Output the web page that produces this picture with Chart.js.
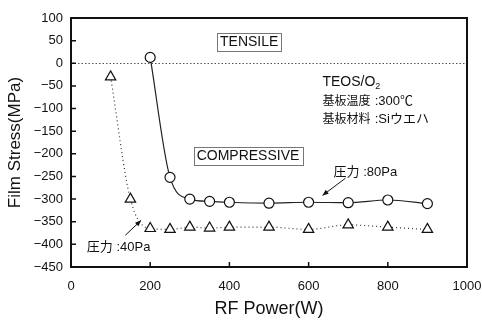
<!DOCTYPE html>
<html><head><meta charset="utf-8">
<script src="https://cdn.jsdelivr.net/npm/chart.js@4/dist/chart.umd.min.js"></script>
<style>html,body{margin:0;padding:0;background:#fff}#wrap{width:482px;height:323px}</style>
</head><body><div id="wrap"><canvas id="c" width="482" height="323"></canvas></div>
<script>
const powers80 = [200,250,300,350,400,500,600,700,800,900];
const stress80 = [13,-252,-300,-305,-307,-309,-307,-308,-302,-310];
const powers40 = [100,150,200,250,300,350,400,500,600,700,800,900];
const stress40 = [-30,-300,-365,-367,-362,-364,-362,-362,-367,-357,-362,-367];
const xTicks = [0,200,400,600,800,1000];
const yTicks = [100,50,0,-50,-100,-150,-200,-250,-300,-350,-400,-450];
const label80 = '圧力 :80Pa';
const label40 = '圧力 :40Pa';
const infoLines = ['TEOS/O', '基板温度', '基板材料'];
const infoValues = ['', ':300℃', ':Siウエハ'];

const FONT = '"Liberation Sans", Arial, sans-serif';
const CJK = '"Liberation Sans", "Noto Sans CJK JP", sans-serif';

const deco = {
  id: 'deco',
  beforeDatasetsDraw(chart) {
    const {ctx, chartArea: a, scales: {x, y}} = chart;
    ctx.save();
    ctx.strokeStyle = '#555';
    ctx.lineWidth = 1;
    ctx.setLineDash([1.5, 2]);
    const y0 = Math.round(y.getPixelForValue(0)) + 0.5;
    ctx.beginPath(); ctx.moveTo(a.left, y0); ctx.lineTo(a.right, y0); ctx.stroke();
    ctx.restore();
  },
  afterDraw(chart) {
    const {ctx, chartArea: a, scales: {x, y}} = chart;
    ctx.save();
    ctx.strokeStyle = '#111'; ctx.lineWidth = 2;
    ctx.strokeRect(a.left, a.top, a.right - a.left, a.bottom - a.top);
    ctx.lineWidth = 1.5;
    ctx.beginPath();
    yTicks.forEach(v => { const p = y.getPixelForValue(v); ctx.moveTo(a.left, p); ctx.lineTo(a.left + 5, p); });
    xTicks.forEach(v => { const p = x.getPixelForValue(v); ctx.moveTo(p, a.bottom); ctx.lineTo(p, a.bottom - 5); });
    ctx.stroke();

    ctx.fillStyle = '#111';
    ctx.textBaseline = 'middle';
    function boxed(txt, cx, cy) {
      ctx.font = '14px ' + FONT;
      ctx.textAlign = 'center';
      const px = x.getPixelForValue(cx), py = y.getPixelForValue(cy);
      const w = ctx.measureText(txt).width;
      ctx.fillText(txt, px, py);
      ctx.strokeStyle = '#777'; ctx.lineWidth = 1;
      ctx.strokeRect(Math.round(px - w/2 - 3) + 0.5, Math.round(py - 9) + 0.5, Math.round(w + 6), 18);
    }
    boxed('TENSILE', 450, 46);
    boxed('COMPRESSIVE', 447, -205);

    ctx.textAlign = 'left';
    const ix = x.getPixelForValue(635);
    const vx = x.getPixelForValue(767);
    const iy = [-42, -84, -124];
    ctx.font = '14px ' + FONT;
    ctx.fillText(infoLines[0], ix, y.getPixelForValue(iy[0]));
    const tw = ctx.measureText(infoLines[0]).width;
    ctx.font = '9px ' + FONT;
    ctx.fillText('2', ix + tw, y.getPixelForValue(iy[0]) + 4);
    for (let i = 1; i < 3; i++) {
      ctx.font = '12px ' + CJK;
      ctx.fillText(infoLines[i], ix, y.getPixelForValue(iy[i]));
      ctx.font = '13px ' + CJK;
      ctx.fillText(infoValues[i], vx, y.getPixelForValue(iy[i]));
    }

    ctx.font = '13px ' + CJK;
    ctx.fillText(label80, x.getPixelForValue(663), y.getPixelForValue(-241));
    ctx.fillText(label40, x.getPixelForValue(40), y.getPixelForValue(-406));

    function arrow(x1, y1, x2, y2) {
      const p1 = [x.getPixelForValue(x1), y.getPixelForValue(y1)];
      const p2 = [x.getPixelForValue(x2), y.getPixelForValue(y2)];
      ctx.strokeStyle = '#111'; ctx.lineWidth = 1; ctx.setLineDash([]);
      ctx.beginPath(); ctx.moveTo(p1[0], p1[1]); ctx.lineTo(p2[0], p2[1]); ctx.stroke();
      const ang = Math.atan2(p2[1] - p1[1], p2[0] - p1[0]);
      const L = 6, W = 2.5;
      ctx.beginPath();
      ctx.moveTo(p2[0], p2[1]);
      ctx.lineTo(p2[0] - L*Math.cos(ang) + W*Math.sin(ang), p2[1] - L*Math.sin(ang) - W*Math.cos(ang));
      ctx.lineTo(p2[0] - L*Math.cos(ang) - W*Math.sin(ang), p2[1] - L*Math.sin(ang) + W*Math.cos(ang));
      ctx.closePath(); ctx.fill();
    }
    arrow(693, -254, 635, -292);
    arrow(137, -380, 177, -347);
    ctx.restore();
  }
};

new Chart(document.getElementById('c'), {
  type: 'line',
  data: {
    datasets: [
      {
        label: '80Pa',
        data: powers80.map((p, i) => ({x: p, y: stress80[i]})),
        borderColor: '#222', borderWidth: 1.2,
        pointStyle: 'circle', pointRadius: 5, pointBorderWidth: 1.2,
        pointBackgroundColor: '#fff', pointBorderColor: '#111',
        cubicInterpolationMode: 'monotone'
      },
      {
        label: '40Pa',
        data: powers40.map((p, i) => ({x: p, y: stress40[i]})),
        borderColor: '#333', borderWidth: 1.2, borderDash: [1, 3],
        pointStyle: 'triangle', pointRadius: 6, pointBorderWidth: 1.2,
        pointBackgroundColor: '#fff', pointBorderColor: '#111',
        cubicInterpolationMode: 'monotone'
      }
    ]
  },
  options: {
    responsive: false, animation: false, devicePixelRatio: 1,
    layout: {padding: {top: 18, right: 0, left: 0, bottom: 0}},
    plugins: {legend: {display: false}, tooltip: {enabled: false}},
    scales: {
      x: {
        type: 'linear', min: 0, max: 1000,
        afterBuildTicks: s => { s.ticks = xTicks.map(v => ({value: v})); },
        afterFit: s => { s.height = 56; s.paddingRight = 15; s.paddingLeft = 0; },
        grid: {display: false, drawTicks: false},
        border: {display: false},
        ticks: {padding: 12, color: '#111', font: {family: FONT, size: 13}, maxRotation: 0, callback: v => String(v)},
        title: {display: true, text: 'RF Power(W)', color: '#111', font: {family: FONT, size: 18}, padding: {top: 0, bottom: 3}}
      },
      y: {
        min: -450, max: 100,
        afterBuildTicks: s => { s.ticks = yTicks.map(v => ({value: v})); },
        afterFit: s => { s.width = 71; s.paddingTop = 0; s.paddingBottom = 0; },
        grid: {display: false, drawTicks: false},
        border: {display: false},
        ticks: {padding: 8, color: '#111', font: {family: FONT, size: 13}, callback: v => String(v).replace('-', '\u2212')},
        title: {display: true, text: 'Film Stress(MPa)', color: '#111', font: {family: FONT, size: 17}, padding: {top: 5, bottom: 0}}
      }
    }
  },
  plugins: [deco]
});
</script></body></html>
